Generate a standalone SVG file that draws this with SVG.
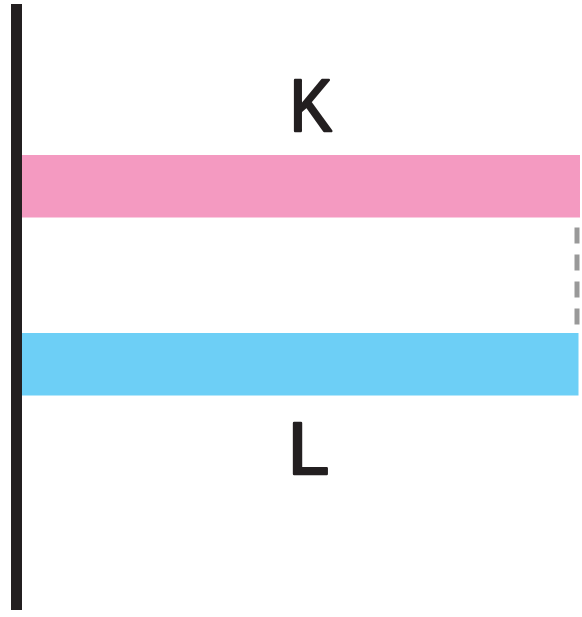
<svg xmlns="http://www.w3.org/2000/svg" width="582" height="617" viewBox="0 0 582 617">
<style>
.lbl{font-family:"Liberation Sans",Arial,sans-serif;font-size:74px;fill:#231f20;stroke:#231f20;stroke-width:2.5;stroke-linejoin:round;stroke-linecap:round;text-anchor:middle}
</style>
<rect width="582" height="617" fill="#ffffff"/>
<g id="wall"><rect x="11" y="4" width="11" height="606" fill="#231f20"/></g>
<g id="bandK"><rect x="22" y="155" width="558" height="62.5" fill="#f49ac1"/></g>
<g id="bandL"><rect x="22" y="333" width="556.5" height="62.5" fill="#6dcff6"/></g>
<g id="connectors"><line x1="577" y1="227.5" x2="577" y2="326" stroke="#999999" stroke-width="5" stroke-dasharray="16 11"/></g>
<g id="labelK"><text class="lbl" transform="translate(311 131) scale(0.86 1)" x="0" y="0">K</text></g>
<g id="labelL"><text class="lbl" x="308.5" y="473.5">L</text></g>
</svg>
